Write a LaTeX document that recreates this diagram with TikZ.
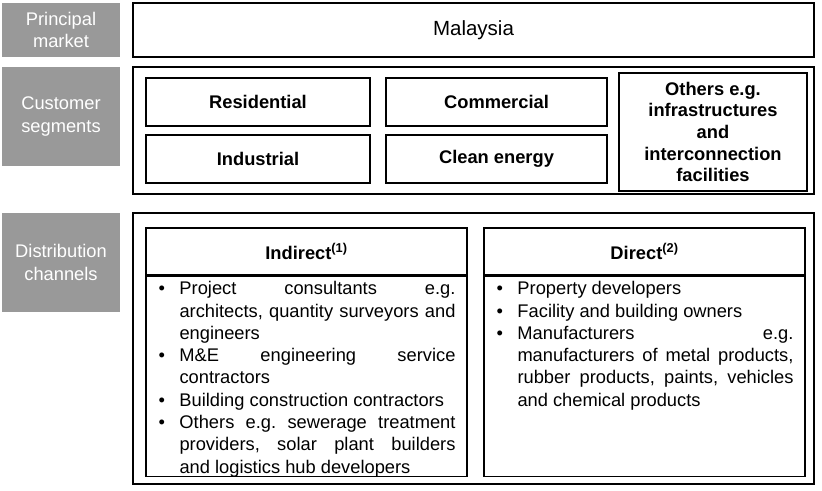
\documentclass[tikz,border=0pt]{standalone}
\usepackage{fontspec}
\setmainfont{Liberation Sans}
\definecolor{labelgrey}{RGB}{153,153,153}
\newcommand\bitem{\par\hangindent=22pt\hangafter=1\noindent\hbox to 22pt{\hspace{1pt}\textbullet\hfill}}
\newcommand\chanlist[1]{\parbox[t][200pt][t]{298pt}{\hyphenpenalty=10000\exhyphenpenalty=10000\tolerance=10000\hbadness=10000\frenchspacing\vspace{5pt}#1}}
\begin{document}
\begin{tikzpicture}
  [x=1pt,y=-1pt
  ,every node/.style={font=\fontsize{18.3}{22.3}\selectfont}
  ,label/.style={rectangle,fill=labelgrey,text=white,align=center,minimum width=118pt,inner sep=0pt}
  ,outer/.style={rectangle,draw=black,line width=1.5pt,minimum width=681pt,inner sep=0pt}
  ,segbox/.style={rectangle,draw=black,line width=1.5pt,minimum height=48pt,inner sep=0pt,font=\fontsize{18.3}{21.7}\selectfont\bfseries,align=center}
  ,headbox/.style={rectangle,draw=black,line width=1.5pt,minimum width=321pt,minimum height=47pt,inner sep=0pt,font=\fontsize{18.3}{22.3}\selectfont\bfseries}
  ,bodybox/.style={rectangle,draw=black,line width=1.5pt,minimum width=321pt,minimum height=200pt,inner xsep=11.5pt,inner ysep=0pt,anchor=north west}]
\useasboundingbox (0,0) rectangle (822,490);
% row labels
\node at (61,30)    (lmarket)  [label,minimum height=54pt] {Principal\\market};
\node at (61,116.5) (lsegment) [label,minimum height=99pt] {Customer\\segments};
\node at (61,262.5) (lchannel) [label,minimum height=99pt] {Distribution\\channels};
% principal market
\node at (473.5,30) (market) [outer,minimum height=54pt,font=\fontsize{20.5}{24}\selectfont] {Malaysia};
% customer segments
\node at (473.5,130.5) (segments) [outer,minimum height=127pt] {};
\node at (258,102)   (resid)  [segbox,minimum width=224pt] {Residential};
\node at (258,159)   (indus)  [segbox,minimum width=224pt] {Industrial};
\node at (496.5,102) (comm)   [segbox,minimum width=221pt] {Commercial};
\node at (496.5,159) (clean)  [segbox,minimum width=221pt] {Clean energy};
\node at (713,132)   (others) [segbox,minimum width=188pt,minimum height=118pt] {Others e.g.\\infrastructures\\and\\interconnection\\facilities};
% distribution channels
\node at (473.5,348.5) (channels) [outer,minimum height=271pt] {};
\node at (306.5,251.5) (indirect) [headbox] {Indirect\textsuperscript{(1)}};
\node at (644.5,251.5) (direct)   [headbox] {Direct\textsuperscript{(2)}};
\node at (indirect.south west) (indlist) [bodybox] {\chanlist{%
  \bitem Project consultants e.g.\linebreak architects, quantity surveyors and\linebreak engineers
  \bitem M\&E engineering service\linebreak contractors
  \bitem Building construction contractors
  \bitem Others e.g. sewerage treatment\linebreak providers, solar plant builders\linebreak and logistics hub developers}};
\node at (direct.south west) (dirlist) [bodybox] {\chanlist{%
  \bitem Property developers
  \bitem Facility and building owners
  \bitem Manufacturers e.g.\linebreak manufacturers of metal products,\linebreak rubber products, paints, vehicles\linebreak and chemical products}};
\end{tikzpicture}
\end{document}
